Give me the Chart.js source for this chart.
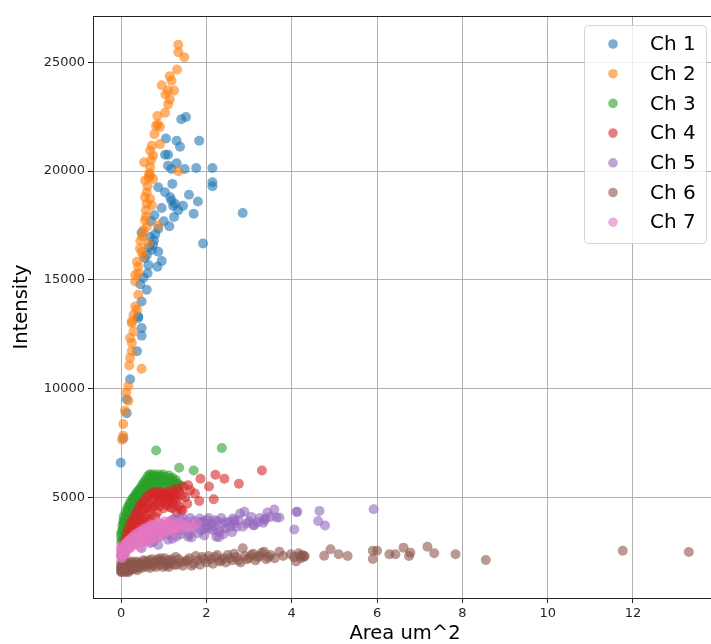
<!DOCTYPE html>
<html>
<head>
<meta charset="utf-8">
<script src="https://cdn.jsdelivr.net/npm/chart.js@4"></script>
<style>
  html, body { margin: 0; padding: 0; overflow: hidden; background: #fff; }
  #wrap { width: 722px; height: 644px; }
</style>
</head>
<body>
<div id="wrap"><canvas id="scatterChart" width="722" height="644"></canvas></div>
<script>
// Series labels and colours
const seriesLabels = ['Ch 1', 'Ch 2', 'Ch 3', 'Ch 4', 'Ch 5', 'Ch 6', 'Ch 7'];
const seriesColors = ['31,119,180', '255,127,14', '44,160,44', '214,39,40', '148,103,189', '140,86,75', '227,119,194'];

// Axis ticks
const xTicks = [0, 2, 4, 6, 8, 10, 12];
const yTicks = [5000, 10000, 15000, 20000, 25000];

// Ch 1
const ch1X = [1.41, 1.52, 1.05, 1.30, 1.38, 1.83, 1.03, 1.10, 1.10, 1.30, 1.49, 1.76, 2.14, 1.18, 1.20, 2.14, 2.14, 0.87, 1.03, 1.59,
  1.80, 1.18, 1.26, 1.22, 1.34, 2.85, 1.70, 0.78, 1.24, 1.00, 1.13, 0.87, 0.48, 0.68, 0.77, 1.92, 0.72, 0.87, 0.60, 0.95,
  0.64, 0.85, 0.52, 0.60, 0.48, 0.40, 0.40, 0.48, 0.48, 0.37, 0.21, 0.13, 0.13, 0.05, -0.01, 0.70, 0.75, 0.65, 0.55, 0.80,
  0.62, 0.45, 1.15, 1.45, 0.95];
const ch1Y = [22380, 22490, 21500, 21390, 21120, 21390, 20750, 20750, 20250, 20355, 20095, 20140, 20140, 20095, 19410, 19485, 19300, 19260, 19030, 18910,
  18600, 18650, 18500, 18390, 18195, 18070, 18040, 17965, 17890, 17690, 17460, 17350, 17170, 16970, 16820, 16670, 16370, 16290, 16140, 15860,
  15680, 15600, 15100, 14540, 14000, 13320, 13240, 12780, 12435, 11720, 10425, 9510, 8870, 7710, 6585, 17700, 16600, 16500, 16000, 17100,
  15300, 14800, 18800, 18400, 18300];

// Ch 2
const ch2X = [1.34, 1.34, 1.48, 1.31, 1.14, 1.18, 0.95, 1.10, 1.24, 1.04, 1.14, 1.10, 1.03, 0.85, 0.82, 0.91, 0.91, 0.72, 0.68, 0.75,
  0.54, 0.68, 1.34, 0.68, 0.64, 0.75, 0.56, 0.60, 0.56, 0.68, 0.60, 0.72, 0.56, 0.60, 0.52, 0.87, 0.64, 0.44, 0.48, 0.37,
  0.40, 0.33, 0.40, 0.33, 0.40, 0.33, 0.37, 0.29, 0.25, 0.25, 0.29, 0.21, 0.25, 0.25, 0.21, 0.19, 0.48, 0.17, 0.12, 0.17,
  0.09, 0.05, 0.05, 0.02, 0.86, 0.78, 0.70, 0.62, 0.58, 0.50, 0.45, 0.66, 0.58, 0.52];
const ch2Y = [25808, 25470, 25230, 24665, 24365, 24160, 23950, 23705, 23705, 23520, 23295, 23065, 22685, 22535, 22080, 22030, 21240, 21165, 20940, 20710,
  20400, 20170, 19990, 19800, 19715, 19640, 19565, 19030, 18800, 18725, 18495, 18420, 17735, 17430, 17280, 17510, 16670, 16440, 16290, 15830,
  15600, 15220, 15295, 14920, 14310, 13775, 13620, 13395, 13090, 13010, 12630, 12325, 12100, 11720, 11410, 11065, 10910, 10120, 9815, 9435,
  8975, 8370, 7835, 7650, 22150, 21700, 20500, 19300, 18200, 17000, 16800, 19900, 17900, 16100];

// Ch 3
const ch3X = [0.00, 0.00, 0.02, 0.03, 0.05, 0.06, 0.08, 0.10, 0.12, 0.14, 0.16, 0.18, 0.20, 0.22, 0.25, 0.27, 0.30, 0.32, 0.35, 0.37,
  0.40, 0.42, 0.45, 0.48, 0.50, 0.52, 0.55, 0.58, 0.60, 0.63, 0.65, 0.68, 0.70, 0.73, 0.76, 0.80, 0.83, 0.86, 0.90, 0.93,
  0.96, 1.00, 1.03, 1.07, 1.10, 1.14, 1.18, 1.22, 1.26, 1.30, 1.34, 0.10, 0.15, 0.05, 0.25, 0.35, 0.45, 0.55, 0.65, 0.75,
  0.82, 2.36, 1.36, 1.70,
  0.00, 0.02, 0.04, 0.06, 0.08, 0.10, 0.12, 0.14, 0.16, 0.18, 0.20, 0.22, 0.24, 0.26, 0.28, 0.30, 0.32, 0.34, 0.36, 0.38,
  0.40, 0.42, 0.44, 0.46, 0.50, 0.54, 0.58, 0.62, 0.66, 0.70, 0.74, 0.78, 0.82, 0.88, 0.92, 0.98, 1.04, 1.12, 1.16, 1.20,
  1.28, 1.32, 1.38, 0.60, 0.70, 0.80, 0.90, 1.00, 0.50, 0.40];
const ch3Y = [2950, 3200, 3450, 3700, 3900, 4100, 3300, 4300, 3600, 4500, 3900, 4650, 4200, 4800, 4450, 4950, 4700, 5050, 4350, 4900,
  5150, 4650, 5300, 5000, 5450, 5200, 5550, 5350, 5650, 5450, 5800, 5600, 5900, 5700, 5950, 5800, 5600, 5950, 5750, 5950,
  5850, 5700, 5950, 5800, 5600, 5850, 5700, 5750, 5550, 5650, 5600, 3800, 4100, 3100, 4000, 4600, 4800, 5100, 5300, 5400,
  7150, 7270, 6360, 6235,
  3350, 3050, 3550, 3800, 4000, 3500, 4200, 3750, 4400, 4050, 4600, 4300, 4750, 4550, 4900, 5000, 4800, 5150, 5000, 5250,
  4950, 5350, 5200, 5450, 5600, 5700, 5800, 5950, 6050, 6050, 5850, 6050, 5950, 6050, 5650, 6050, 5750, 6000, 5550, 5900,
  5800, 5450, 5550, 5500, 5500, 5450, 5400, 5450, 5250, 4600];

// Ch 4
const ch4X = [0.05, 0.08, 0.10, 0.15, 0.18, 0.20, 0.22, 0.25, 0.28, 0.30, 0.33, 0.36, 0.40, 0.43, 0.46, 0.50, 0.53, 0.56, 0.60, 0.63,
  0.66, 0.70, 0.73, 0.76, 0.80, 0.83, 0.86, 0.90, 0.93, 0.96, 1.00, 1.03, 1.06, 1.10, 1.14, 1.18, 1.22, 1.26, 1.30, 1.35,
  1.40, 0.55, 0.70, 0.85, 1.00, 1.15, 3.30, 2.21, 2.42, 1.86, 2.76, 2.06, 1.83, 2.17, 1.44, 1.62, 1.73, 1.57, 1.50, 1.55,
  0.00, 0.03, 0.06, 0.10, 0.12, 0.16, 0.20, 0.24, 0.28, 0.32, 0.36, 0.40, 0.44, 0.48, 0.52, 0.58, 0.62, 0.68, 0.72, 0.78,
  0.82, 0.88, 0.94, 0.98, 1.04, 1.08, 1.12, 1.16, 1.20, 1.24, 1.28, 1.32, 1.36, 1.42, 1.46, 0.45, 0.60, 0.75, 0.90, 1.05,
  1.20, 1.30, 0.65, 0.80, 0.35, 0.50];
const ch4Y = [2250, 2500, 2700, 2900, 3100, 3400, 2950, 3600, 3250, 3800, 3450, 3950, 3650, 4200, 3850, 4400, 4050, 4550, 4200, 4700,
  4350, 4850, 4500, 4950, 4650, 5100, 4750, 5150, 4850, 5050, 4900, 5200, 4750, 5000, 4850, 5100, 4700, 4950, 4800, 4600,
  4400, 3700, 4000, 4300, 4500, 4550, 6235, 6035, 5855, 5855, 5625, 5500, 4830, 4910, 4405, 5320, 5170, 5550, 5000, 4700,
  2300, 2600, 2850, 3050, 3300, 3500, 3700, 3850, 4000, 4150, 4300, 4450, 4600, 4700, 4800, 4950, 5050, 5100, 5200, 5200,
  5250, 5050, 5250, 5150, 5100, 5250, 5150, 4950, 5350, 5200, 5100, 5400, 5250, 5100, 5500, 4100, 4500, 4600, 4600, 4650,
  4500, 4300, 3900, 4100, 3600, 3900];

// Ch 5
const ch5X = [0.48, 0.68, 0.87, 0.91, 0.99, 1.18, 1.26, 1.38, 1.45, 1.57, 1.69, 1.84, 1.88, 2.00, 2.07, 1.92, 2.00, 2.11, 2.15, 2.19,
  2.23, 2.27, 2.29, 2.31, 2.38, 2.46, 2.54, 2.62, 2.66, 2.70, 2.79, 2.89, 2.94, 3.10, 3.12, 3.33, 3.36, 3.38, 3.43, 3.59,
  3.64, 3.71, 4.06, 4.11, 4.13, 4.62, 4.65, 4.78, 5.92, 1.10, 1.30, 1.50, 1.60, 1.70, 1.80, 1.20, 1.40, 0.80, 1.00,
  0.55, 0.65, 0.75, 0.85, 0.95, 1.05, 1.15, 1.25, 1.35, 1.45, 1.55, 1.62, 1.75, 1.85, 1.95, 2.05, 2.15, 2.25, 2.35, 2.45,
  2.55, 2.65, 2.75, 2.85, 3.00, 3.05, 3.20, 3.25, 3.50, 1.30, 1.65, 1.95, 2.40, 2.60, 0.75, 1.10];
const ch5Y = [2655, 2885, 2805, 3185, 3720, 3950, 3490, 4025, 3490, 3185, 3570, 4025, 3490, 3950, 3570, 3870, 3640, 3800, 3490, 3950,
  3185, 3490, 3160, 3415, 3800, 3570, 3870, 4025, 3950, 3640, 4255, 4330, 3800, 3720, 3720, 3825, 3950, 4025, 4300, 4440,
  4070, 4070, 3525, 4330, 4330, 3905, 4375, 3705, 4450, 3300, 3900, 3750, 3300, 3900, 3350, 3100, 3300, 3300, 3400,
  3000, 3150, 3250, 3550, 3450, 3700, 3850, 4000, 3700, 4050, 3850, 4050, 3750, 3850, 3550, 4050, 3700, 3900, 4050, 3850,
  3650, 3800, 3950, 3650, 3900, 4100, 3850, 4050, 4100, 3200, 3150, 3250, 3300, 3400, 2950, 3050];

// Ch 6
const ch6X = [0.00, 0.00, 0.00, 0.02, 0.05, 0.05, 0.08, 0.10, 0.10, 0.12, 0.15, 0.18, 0.20, 0.22, 0.25, 0.28, 0.30, 0.33, 0.36, 0.40,
  0.43, 0.46, 0.50, 0.55, 0.60, 0.65, 0.70, 0.75, 0.80, 0.85, 0.90, 0.95, 1.00, 1.05, 1.10, 1.15, 1.20, 1.30, 1.35, 1.40,
  1.50, 1.60, 1.70, 1.80, 1.90, 2.00, 2.10, 2.20, 2.30, 2.40, 2.50, 2.60, 2.70, 2.80, 2.85, 2.90, 3.00, 3.10, 3.20, 3.30,
  3.40, 3.50, 3.71, 3.98, 4.10, 4.16, 4.20, 4.25, 4.29, 4.76, 4.91, 5.10, 5.31, 5.90, 6.00, 5.90, 6.29, 6.43, 6.62, 6.78,
  6.75, 7.18, 7.34, 7.84, 8.55, 11.76, 13.31,
  0.00, 0.00, 0.00, 0.03, 0.06, 0.09, 0.12, 0.14, 0.17, 0.20, 0.23, 0.26, 0.30, 0.35, 0.38, 0.42, 0.48, 0.52, 0.58, 0.62,
  0.68, 0.72, 0.78, 0.82, 0.88, 0.92, 0.98, 1.02, 1.08, 1.12, 1.18, 1.25, 1.28, 1.45, 1.55, 1.65, 1.75, 1.85, 1.95, 2.05,
  2.15, 2.25, 2.35, 2.45, 2.55, 2.65, 2.75, 2.95, 3.05, 3.15, 3.25, 3.35, 3.45, 3.60, 3.80, 4.05, 4.30, 4.22];
const ch6Y = [1550, 1700, 1850, 1600, 1750, 1950, 1550, 1700, 1900, 2050, 1600, 1800, 1950, 1650, 1850, 2000, 1700, 1900, 1750, 2000,
  1800, 1950, 1850, 2050, 1900, 2100, 1950, 1850, 2050, 2150, 1900, 2100, 2000, 1850, 2100, 1950, 2050, 1900, 2150, 2000,
  2050, 2200, 1950, 2100, 2250, 2000, 2150, 2250, 2050, 2200, 2350, 2100, 2250, 2000, 2655, 2300, 2200, 2400, 2250, 2450,
  2150, 2350, 2500, 2380, 2045, 2425, 2300, 2350, 2270, 2315, 2610, 2380, 2305, 2545, 2545, 2165, 2380, 2380, 2685, 2455,
  2305, 2730, 2425, 2380, 2120, 2545, 2485,
  1600, 1800, 2000, 1650, 1850, 2000, 1650, 1850, 1550, 1750, 2050, 1700, 1900, 2050, 1650, 1900, 1750, 2100, 1800, 2000,
  1750, 2150, 1950, 1800, 2050, 2200, 1800, 2200, 1950, 1800, 2150, 1900, 2250, 1850, 2100, 1850, 2300, 1900, 2150, 2300,
  1950, 2350, 2100, 2000, 2200, 2400, 2100, 2150, 2350, 2100, 2300, 2500, 2250, 2200, 2300, 2250, 2300, 2200];

// Ch 7
const ch7X = [0.00, 0.00, 0.00, 0.03, 0.05, 0.08, 0.10, 0.12, 0.15, 0.18, 0.20, 0.23, 0.26, 0.30, 0.33, 0.36, 0.40, 0.43, 0.46, 0.50,
  0.53, 0.56, 0.60, 0.63, 0.66, 0.70, 0.73, 0.76, 0.80, 0.85, 0.90, 0.95, 1.00, 1.05, 1.10, 1.15, 1.20, 1.30, 1.40, 1.50,
  1.60, 1.77, 0.45, 0.60, 0.75, 0.90,
  0.00, 0.00, 0.00, 0.02, 0.04, 0.06, 0.08, 0.10, 0.12, 0.14, 0.16, 0.20, 0.22, 0.24, 0.28, 0.30, 0.32, 0.36, 0.38, 0.42,
  0.44, 0.48, 0.52, 0.55, 0.58, 0.62, 0.65, 0.68, 0.72, 0.78, 0.82, 0.86, 0.92, 0.98, 1.02, 1.08, 1.12, 1.18, 1.25, 1.35,
  1.45, 1.55, 1.70, 0.70, 0.85, 1.00, 1.25];
const ch7Y = [2250, 2450, 2650, 2350, 2550, 2750, 2400, 2900, 2600, 2800, 3050, 2700, 2950, 3200, 2850, 3100, 3350, 2950, 3250, 3450,
  3100, 3350, 3550, 3200, 3450, 3650, 3300, 3550, 3750, 3400, 3650, 3800, 3500, 3700, 3850, 3550, 3750, 3650, 3800, 3700,
  3850, 3800, 2700, 2950, 3100, 3250,
  2350, 2550, 2750, 2200, 2450, 2650, 2350, 2850, 2550, 2750, 3000, 2650, 2900, 3150, 2800, 3050, 3300, 2900, 3200, 3400,
  3100, 3300, 3550, 3050, 3450, 3650, 3100, 3400, 3750, 3300, 3600, 3850, 3400, 3650, 3900, 3450, 3700, 3900, 3550, 3850,
  3550, 3650, 3600, 3000, 3150, 3300, 3400];

const seriesX = [ch1X, ch2X, ch3X, ch4X, ch5X, ch6X, ch7X];
const seriesY = [ch1Y, ch2Y, ch3Y, ch4Y, ch5Y, ch6Y, ch7Y];

const FONT = "'DejaVu Sans', sans-serif";

// later series are drawn on top (lower order = drawn last)
const datasets = seriesLabels.map((label, i) => ({
  label: label,
  data: seriesX[i].map((x, j) => ({ x: x, y: seriesY[i][j] })),
  backgroundColor: `rgba(${seriesColors[i]}, 0.6)`,
  borderWidth: 0,
  pointRadius: 5,
  pointHoverRadius: 5,
  order: seriesLabels.length - 1 - i
}));

// Frame around the plot area (top/right spines)
const framePlugin = {
  id: 'frame',
  afterDatasetsDraw(chart) {
    const { ctx, chartArea: a } = chart;
    ctx.save();
    ctx.strokeStyle = '#222';
    ctx.lineWidth = 1;
    ctx.strokeRect(a.left + 0.5, a.top + 0.5, a.right - a.left - 1, a.bottom - a.top);
    ctx.restore();
  }
};

// Legend in the upper right corner of the plot
const legendBoxPlugin = {
  id: 'legendBox',
  afterDraw(chart) {
    const { ctx, chartArea: a } = chart;
    const boxW = 122, boxH = 218;
    const bx = a.right - 11 - boxW, by = a.top + 9;
    ctx.save();
    ctx.beginPath();
    ctx.roundRect(bx + 0.5, by + 0.5, boxW, boxH, 4);
    ctx.fillStyle = 'rgba(255,255,255,0.8)';
    ctx.fill();
    ctx.strokeStyle = 'rgba(204,204,204,0.8)';
    ctx.lineWidth = 1;
    ctx.stroke();
    ctx.font = `20px ${FONT}`;
    ctx.textBaseline = 'middle';
    ctx.textAlign = 'left';
    chart.data.datasets.forEach((ds, i) => {
      const cy = by + 19 + i * 29.7;
      ctx.beginPath();
      ctx.arc(bx + 29, cy, 4.8, 0, Math.PI * 2);
      ctx.fillStyle = ds.backgroundColor;
      ctx.fill();
      ctx.fillStyle = '#000';
      ctx.fillText(ds.label, bx + 66, cy + 1);
    });
    ctx.restore();
  }
};

new Chart(document.getElementById('scatterChart'), {
  type: 'scatter',
  data: { datasets: datasets },
  options: {
    responsive: false,
    animation: false,
    events: [],
    layout: { padding: { top: 16, right: 2, left: 0, bottom: 0 } },
    plugins: {
      legend: { display: false },
      tooltip: { enabled: false }
    },
    scales: {
      x: {
        type: 'linear',
        min: -0.66,
        max: 13.97,
        afterBuildTicks: scale => { scale.ticks = xTicks.map(v => ({ value: v })); },
        afterFit: scale => { scale.height = 46; },
        ticks: {
          font: { family: FONT, size: 13 },
          color: '#262626',
          padding: 3,
          maxRotation: 0,
          callback: v => String(v)
        },
        grid: { color: '#b0b0b0', lineWidth: 1, tickColor: '#222', tickLength: 5 },
        border: { display: true, color: '#222', width: 1 },
        title: {
          display: true,
          text: 'Area um^2',
          font: { family: FONT, size: 19.5, lineHeight: 1 },
          color: '#000',
          padding: { top: 0, bottom: 0 }
        }
      },
      y: {
        type: 'linear',
        min: 370,
        max: 27130,
        afterBuildTicks: scale => { scale.ticks = yTicks.map(v => ({ value: v })); },
        afterFit: scale => { scale.width = 93; },
        ticks: {
          font: { family: FONT, size: 13 },
          color: '#262626',
          padding: 3,
          callback: v => String(v)
        },
        grid: { color: '#b0b0b0', lineWidth: 1, tickColor: '#222', tickLength: 5 },
        border: { display: true, color: '#222', width: 1 },
        title: {
          display: true,
          text: 'Intensity',
          font: { family: FONT, size: 19.5, lineHeight: 1 },
          color: '#000',
          padding: { top: 12, bottom: 0 }
        }
      }
    }
  },
  plugins: [framePlugin, legendBoxPlugin]
});
</script>
</body>
</html>
